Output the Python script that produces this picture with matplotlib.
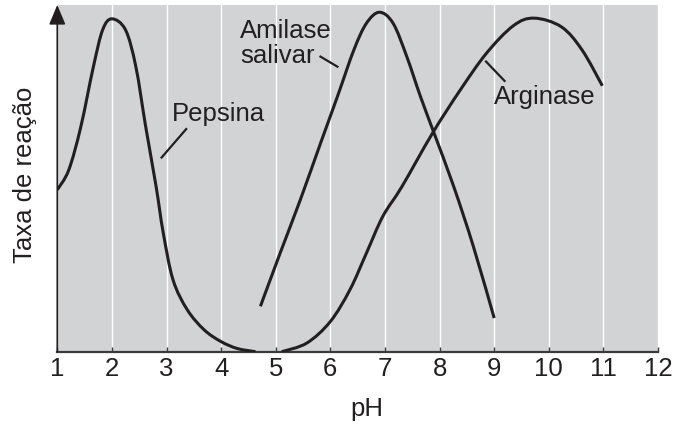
import numpy as np
import matplotlib
matplotlib.use("Agg")
import matplotlib.pyplot as plt
from matplotlib.path import Path
from matplotlib.patches import PathPatch

# values (pH, relative reaction rate 0..1)
pepsina_ph = [1.0, 1.21, 1.43, 1.66, 1.83, 2.0, 2.25, 2.44, 2.62, 2.81,
              2.94, 3.12, 3.38, 3.69, 4.0, 4.30, 4.63]
pepsina_rate = [0.467, 0.524, 0.648, 0.821, 0.928, 0.960, 0.928, 0.821,
                0.648, 0.476, 0.343, 0.207, 0.121, 0.063, 0.029, 0.009, 0.0]

amilase_ph = [4.72, 5.08, 5.45, 5.82, 6.13, 6.43, 6.66, 6.90, 7.15, 7.40, 7.65,
              7.90, 8.26, 8.62, 9.0]
amilase_rate = [0.131, 0.284, 0.438, 0.601, 0.736, 0.870, 0.947, 0.979, 0.947,
                0.851, 0.736, 0.630, 0.476, 0.303, 0.097]

arginase_ph = [5.11, 5.57, 6.0, 6.36, 6.66, 6.96, 7.31, 7.87, 8.38, 8.86,
               9.35, 9.73, 10.23, 10.61, 10.98]
arginase_rate = [0.0, 0.025, 0.087, 0.179, 0.284, 0.390, 0.476, 0.630, 0.755, 0.861,
                 0.940, 0.962, 0.937, 0.870, 0.767]

ph_ticks = list(range(1, 13))

# curve labels: text position, then pointer line (from, to)
labels = [
    ("Pepsina", (3.1, 0.664)),
    ("Amilase", (4.35, 0.904)),
    ("salivar", (4.35, 0.834)),
    ("Arginase", (9.0, 0.715)),
]
pointers = [
    ((3.36, 0.642), (2.91, 0.560)),
    ((5.82, 0.851), (6.13, 0.822)),
    ((8.85, 0.837), (9.19, 0.781)),
]

ink = "#231f20"
bg = "#d1d3d4"
fs = 18.5

plt.rcParams["font.family"] = ["Liberation Sans", "DejaVu Sans"]


def smooth_curve(ax, xs, ys, **kw):
    # draw a smooth curve through the read points (Catmull-Rom as cubic Bezier)
    p = np.column_stack([xs, ys])
    verts = [p[0]]
    codes = [Path.MOVETO]
    for i in range(len(p) - 1):
        p0 = p[i - 1] if i > 0 else p[i]
        p3 = p[i + 2] if i + 2 < len(p) else p[i + 1]
        c1 = p[i] + (p[i + 1] - p0) / 6
        c2 = p[i + 1] - (p3 - p[i]) / 6
        verts += [c1, c2, p[i + 1]]
        codes += [Path.CURVE4] * 3
    ax.add_patch(PathPatch(Path(verts, codes), fill=False, **kw))


fig = plt.figure(figsize=(6.86, 4.25), dpi=100)
ax = fig.add_axes([0.0835, 0.1725, 0.8757, 0.8158])
ax.set_facecolor(bg)

for x in ph_ticks[1:]:
    ax.axvline(x, color="white", lw=1.0, zorder=1)

for xs, ys in [(pepsina_ph, pepsina_rate), (amilase_ph, amilase_rate),
               (arginase_ph, arginase_rate)]:
    smooth_curve(ax, xs, ys, edgecolor=ink, lw=2.2, capstyle="butt", zorder=3)

for text, pos in labels:
    ax.text(pos[0], pos[1], text, fontsize=fs, color=ink, ha="left", va="baseline",
            zorder=4)
for p0, p1 in pointers:
    ax.plot([p0[0], p1[0]], [p0[1], p1[1]], color=ink, lw=1.6, zorder=4)

ax.set_xlim(1, 12)
ax.set_ylim(0, 1)
ax.set_xticks(ph_ticks)
ax.set_yticks([])
ax.tick_params(axis="x", direction="in", length=3.3, width=1.0, colors="#3a3a3a",
               labelcolor=ink, labelsize=fs, pad=4)

for s in ["top", "right", "left"]:
    ax.spines[s].set_visible(False)
ax.spines["bottom"].set_color("#3a3a3a")
ax.spines["bottom"].set_linewidth(1.6)

# y axis with arrow head
ax.annotate("", xy=(0, 1.0), xytext=(0, 0), xycoords="axes fraction",
            arrowprops=dict(arrowstyle="-|>,head_length=1.0,head_width=0.42",
                            mutation_scale=12, color=ink, lw=1.2,
                            shrinkA=0, shrinkB=0))

ax.set_xlabel("pH", fontsize=fs, color=ink)
ax.xaxis.label.set_va("baseline")
ax.xaxis.set_label_coords(0.515, -0.186)
ax.set_ylabel("Taxa de reação", fontsize=fs, color=ink)
ax.yaxis.set_label_coords(-0.034, 0.51)

fig.savefig("out.png", dpi=100)
